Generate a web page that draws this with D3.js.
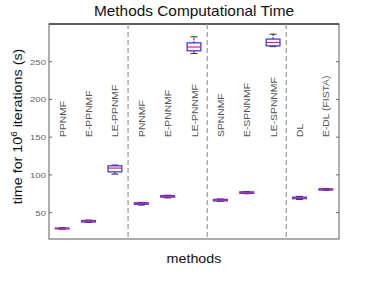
<!DOCTYPE html>
<html>
<head>
<meta charset="utf-8">
<script src="https://cdn.jsdelivr.net/npm/d3@7"></script>
<style>
  body { margin: 0; background: #fff; }
  text { font-family: "Liberation Sans", Arial, sans-serif; }
</style>
</head>
<body>
<svg id="chart" width="374" height="281"></svg>
<script>
const methods = ["PPNMF", "E-PPNMF", "LE-PPNMF", "PNNMF", "E-PNNMF", "LE-PNNMF",
  "SPNNMF", "E-SPNNMF", "LE-SPNNMF", "DL", "E-DL (FISTA)"];
const lows    = [28,   37,   101, 60,   69.5, 261,   65,   75,   270,   67.5, 79.5];
const q1s     = [28.5, 37.5, 104, 61,   70.5, 264.5, 65.5, 75.5, 271,   68.5, 80];
const medians = [29,   38.5, 109, 62,   71.5, 269.5, 66.5, 76.5, 275.5, 69.5, 80.5];
const q3s     = [29.5, 39.5, 112, 63,   72.5, 275,   67.5, 77.5, 280,   70.5, 81.5];
const highs   = [30,   40,   113, 63.5, 73,   283,   68,   78,   286.5, 71.5, 82];
const yTicks = [50, 100, 150, 200, 250];
const separators = [3.5, 6.5, 9.5];

const svg = d3.select("#chart");
const m = { left: 49, right: 35, top: 24, bottom: 42 };
const W = 374, H = 281;
const x = d3.scaleLinear().domain([0.5, 11.5]).range([m.left, W - m.right]);
const y = d3.scaleLinear().domain([15, 300]).range([H - m.bottom, m.top]);
const band = x(2) - x(1);

// frame
const frame = svg.append("g");
frame.append("rect")
  .attr("x", m.left).attr("y", m.top)
  .attr("width", W - m.right - m.left).attr("height", H - m.bottom - m.top)
  .attr("fill", "none").attr("stroke", "#777").attr("stroke-width", 1.2);
frame.append("line")
  .attr("x1", m.left).attr("x2", W - m.right)
  .attr("y1", m.top).attr("y2", m.top)
  .attr("stroke", "#111").attr("stroke-width", 1.2);

// y ticks, inward on both sides
yTicks.forEach(t => {
  frame.append("line").attr("x1", m.left).attr("x2", m.left + 3)
    .attr("y1", y(t)).attr("y2", y(t)).attr("stroke", "#666");
  frame.append("line").attr("x1", W - m.right - 3).attr("x2", W - m.right)
    .attr("y1", y(t)).attr("y2", y(t)).attr("stroke", "#666");
  frame.append("text")
    .attr("transform", "translate(" + (m.left - 3) + "," + (y(t) + 3) + ") scale(1.2,1)")
    .attr("text-anchor", "end")
    .attr("font-size", 8)
    .attr("fill", "#666")
    .text(t);
});

// group separators
svg.selectAll("line.sep")
  .data(separators)
  .enter()
  .append("line")
  .attr("class", "sep")
  .attr("x1", d => x(d)).attr("x2", d => x(d))
  .attr("y1", m.top).attr("y2", H - m.bottom)
  .attr("stroke", "#999")
  .attr("stroke-width", 1.2)
  .attr("stroke-dasharray", "5,3");

// category labels, vertical
svg.selectAll("text.cat")
  .data(methods)
  .enter()
  .append("text")
  .attr("class", "cat")
  .attr("transform", (d, i) => "translate(" + (x(i + 1) + 3.5) + ",137) rotate(-90) scale(1.15,1)")
  .attr("font-size", 9)
  .attr("fill", "#555")
  .text(d => d);

// boxes
const boxes = svg.selectAll("g.box")
  .data(methods)
  .enter()
  .append("g")
  .attr("class", "box");

boxes.append("line")
  .attr("x1", (d, i) => x(i + 1)).attr("x2", (d, i) => x(i + 1))
  .attr("y1", (d, i) => y(q3s[i])).attr("y2", (d, i) => y(highs[i]))
  .attr("stroke", "#222").attr("stroke-dasharray", "2,1");
boxes.append("line")
  .attr("x1", (d, i) => x(i + 1)).attr("x2", (d, i) => x(i + 1))
  .attr("y1", (d, i) => y(q1s[i])).attr("y2", (d, i) => y(lows[i]))
  .attr("stroke", "#222").attr("stroke-dasharray", "2,1");
boxes.append("line")
  .attr("x1", (d, i) => x(i + 1) - band * 0.13).attr("x2", (d, i) => x(i + 1) + band * 0.13)
  .attr("y1", (d, i) => y(highs[i])).attr("y2", (d, i) => y(highs[i]))
  .attr("stroke", "#222");
boxes.append("line")
  .attr("x1", (d, i) => x(i + 1) - band * 0.13).attr("x2", (d, i) => x(i + 1) + band * 0.13)
  .attr("y1", (d, i) => y(lows[i])).attr("y2", (d, i) => y(lows[i]))
  .attr("stroke", "#222");
boxes.append("rect")
  .attr("x", (d, i) => x(i + 1) - band * 0.26)
  .attr("width", band * 0.52)
  .attr("y", (d, i) => y(q3s[i]))
  .attr("height", (d, i) => y(q1s[i]) - y(q3s[i]))
  .attr("fill", "none")
  .attr("stroke", "#3a3aff")
  .attr("stroke-width", 1.3);
boxes.append("line")
  .attr("x1", (d, i) => x(i + 1) - band * 0.26).attr("x2", (d, i) => x(i + 1) + band * 0.26)
  .attr("y1", (d, i) => y(medians[i])).attr("y2", (d, i) => y(medians[i]))
  .attr("stroke", "#e0206a").attr("stroke-width", 1.2);

// titles
svg.append("text")
  .attr("transform", "translate(" + ((m.left + W - m.right) / 2) + ",16) scale(1.1,1)")
  .attr("text-anchor", "middle")
  .attr("font-size", 14)
  .attr("fill", "#111")
  .text("Methods Computational Time");

svg.append("text")
  .attr("transform", "translate(" + ((m.left + W - m.right) / 2) + ",263) scale(1.1,1)")
  .attr("text-anchor", "middle")
  .attr("font-size", 13)
  .attr("fill", "#111")
  .text("methods");

const yl = svg.append("text")
  .attr("transform", "translate(22," + ((m.top + H - m.bottom) / 2 - 5) + ") rotate(-90) scale(1.1,1)")
  .attr("text-anchor", "middle")
  .attr("font-size", 13)
  .attr("fill", "#111");
yl.append("tspan").text("time for 10");
yl.append("tspan").attr("dy", -5).attr("font-size", 9).text("6");
yl.append("tspan").attr("dy", 5).text(" iterations (s)");
</script>
</body>
</html>
